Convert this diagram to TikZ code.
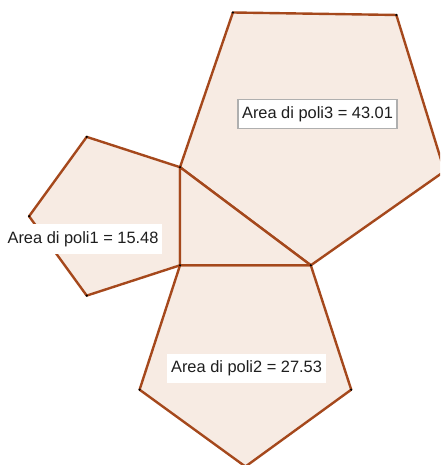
\documentclass[tikz,border=0pt]{standalone}
\usepackage{fontspec}
\setmainfont{Liberation Sans}
\definecolor{edgec}{RGB}{165,72,28}
\definecolor{fillc}{RGB}{247,235,227}
\definecolor{txtc}{RGB}{30,30,30}
\definecolor{boxc}{RGB}{175,175,175}
\begin{document}
\begin{tikzpicture}[x=32.7pt,y=32.7pt,
  poly/.style={draw=edgec,fill=fillc,line width=2.4pt,line join=round},
  vdot/.style={fill=black,inner sep=0pt,minimum size=2.4pt,circle},
  arealabel/.style={fill=white,text=txtc,font=\fontsize{16.4}{18}\selectfont,inner xsep=4pt,inner ysep=7pt},
  framedlabel/.style={arealabel,draw=boxc,line width=1.2pt}]
\useasboundingbox (-5.505,-6.107) rectangle (7.951,8.113);
\clip (-5.505,-6.107) rectangle (7.951,8.113);
\coordinate (A) at (0,3);
\coordinate (B) at (0,0);
\coordinate (C) at (4,0);
\coordinate (L1) at (-2.853,3.927);
\coordinate (L2) at (-4.616,1.5);
\coordinate (L3) at (-2.853,-0.927);
\coordinate (D1) at (5.236,-3.804);
\coordinate (D2) at (2,-6.155);
\coordinate (D3) at (-1.236,-3.804);
\coordinate (U1) at (1.617,7.731);
\coordinate (U2) at (6.616,7.655);
\coordinate (U3) at (8.090,2.877);
\draw[poly] (A) -- (L1) -- (L2) -- (L3) -- (B) -- cycle;
\draw[poly] (B) -- (D3) -- (D2) -- (D1) -- (C) -- cycle;
\draw[poly] (A) -- (U1) -- (U2) -- (U3) -- (C) -- cycle;
\draw[poly] (A) -- (B) -- (C) -- cycle;
\foreach \p in {A,B,C,L1,L2,L3,D1,D2,D3,U1,U2,U3}
  \node[vdot] at (\p) {};
\node[arealabel] (lab1) at (-2.966,0.804) {Area di poli1 = 15.48};
\node[arealabel] (lab2) at (2.034,-3.162) {Area di poli2 = 27.53};
\node[framedlabel] (lab3) at (4.205,4.627) {Area di poli3 = 43.01};
\end{tikzpicture}
\end{document}
